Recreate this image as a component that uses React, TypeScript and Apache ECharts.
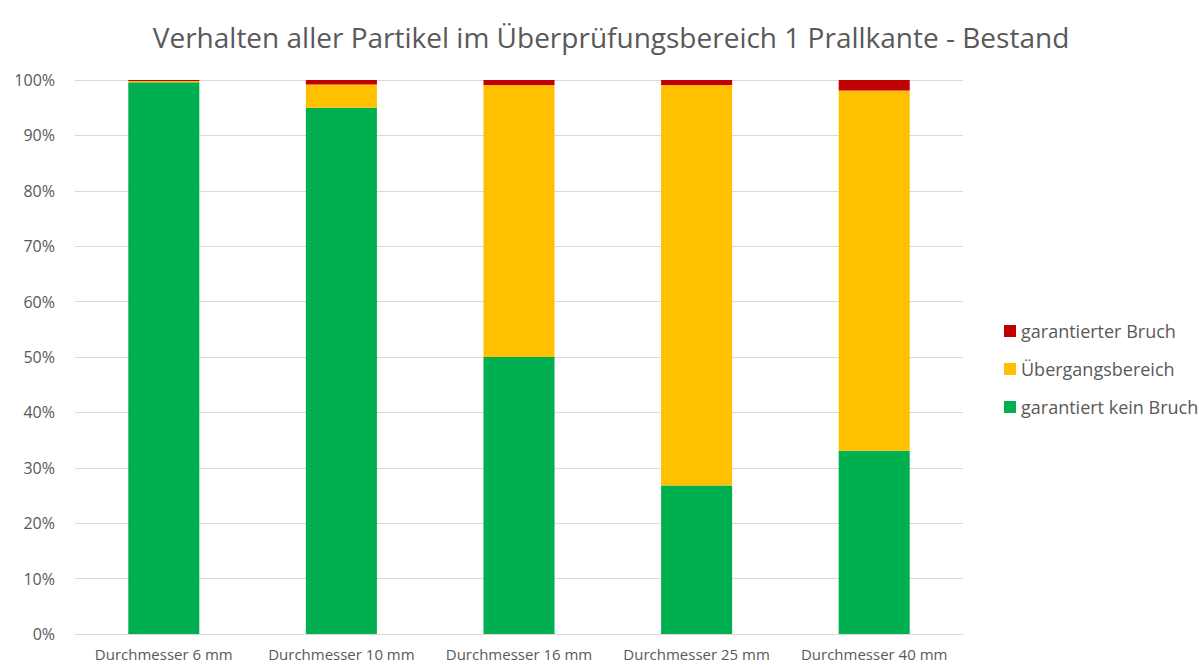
import React, { useEffect, useRef } from "react";
import * as echarts from "echarts";

const categories = ["Durchmesser 6 mm", "Durchmesser 10 mm", "Durchmesser 16 mm", "Durchmesser 25 mm", "Durchmesser 40 mm"];
const keinBruch = [99.6, 95.0, 50.0, 26.8, 33.1];
const uebergang = [0.2, 4.2, 49.1, 72.3, 65.0];
const bruch = [0.2, 0.8, 0.9, 0.9, 1.9];

export default function App() {
  const ref = useRef<HTMLDivElement>(null);
  useEffect(() => {
    const chart = echarts.init(ref.current!, undefined, { renderer: "svg" });
    const font = "'Open Sans', sans-serif";
    chart.setOption({
      animation: false,
      title: {
        text: "Verhalten aller Partikel im Überprüfungsbereich 1 Prallkante - Bestand",
        left: 606,
        textAlign: "center",
        top: 17,
        textStyle: { color: "#595959", fontSize: 28, fontWeight: "normal", fontFamily: font, lineHeight: 30 },
      },
      grid: { left: 75, right: 236, top: 80, bottom: 31, containLabel: false },
      legend: {
        orient: "vertical",
        left: 999,
        top: 317,
        itemWidth: 12,
        itemHeight: 12,
        itemGap: 20,
        icon: "rect",
        data: ["garantierter Bruch", "Übergangsbereich", "garantiert kein Bruch"],
        textStyle: { color: "#595959", fontSize: 18, fontFamily: font, lineHeight: 18, padding: [0, 0, 0, 0] },
      },
      xAxis: {
        type: "category",
        data: categories,
        axisLine: { lineStyle: { color: "#d9d9d9" } },
        axisTick: { show: false },
        axisLabel: { color: "#595959", fontSize: 15, fontFamily: font, margin: 12, interval: 0, hideOverlap: false },
      },
      yAxis: {
        type: "value",
        min: 0,
        max: 100,
        interval: 10,
        axisLine: { show: false },
        axisTick: { show: false },
        splitLine: { lineStyle: { color: "#d9d9d9" } },
        axisLabel: { color: "#595959", fontSize: 16, fontFamily: font, formatter: "{value}%", margin: 20 },
      },
      series: [
        { name: "garantiert kein Bruch", type: "bar", stack: "s", data: keinBruch, barWidth: "40%", itemStyle: { color: "#00B050" } },
        { name: "Übergangsbereich", type: "bar", stack: "s", data: uebergang, barWidth: "40%", itemStyle: { color: "#FFC000" } },
        { name: "garantierter Bruch", type: "bar", stack: "s", data: bruch, barWidth: "40%", itemStyle: { color: "#C00000" } },
      ],
    });
    return () => chart.dispose();
  }, []);
  return <div ref={ref} style={{ position: "absolute", left: 0, top: 0, width: 1199, height: 665 }} />;
}
